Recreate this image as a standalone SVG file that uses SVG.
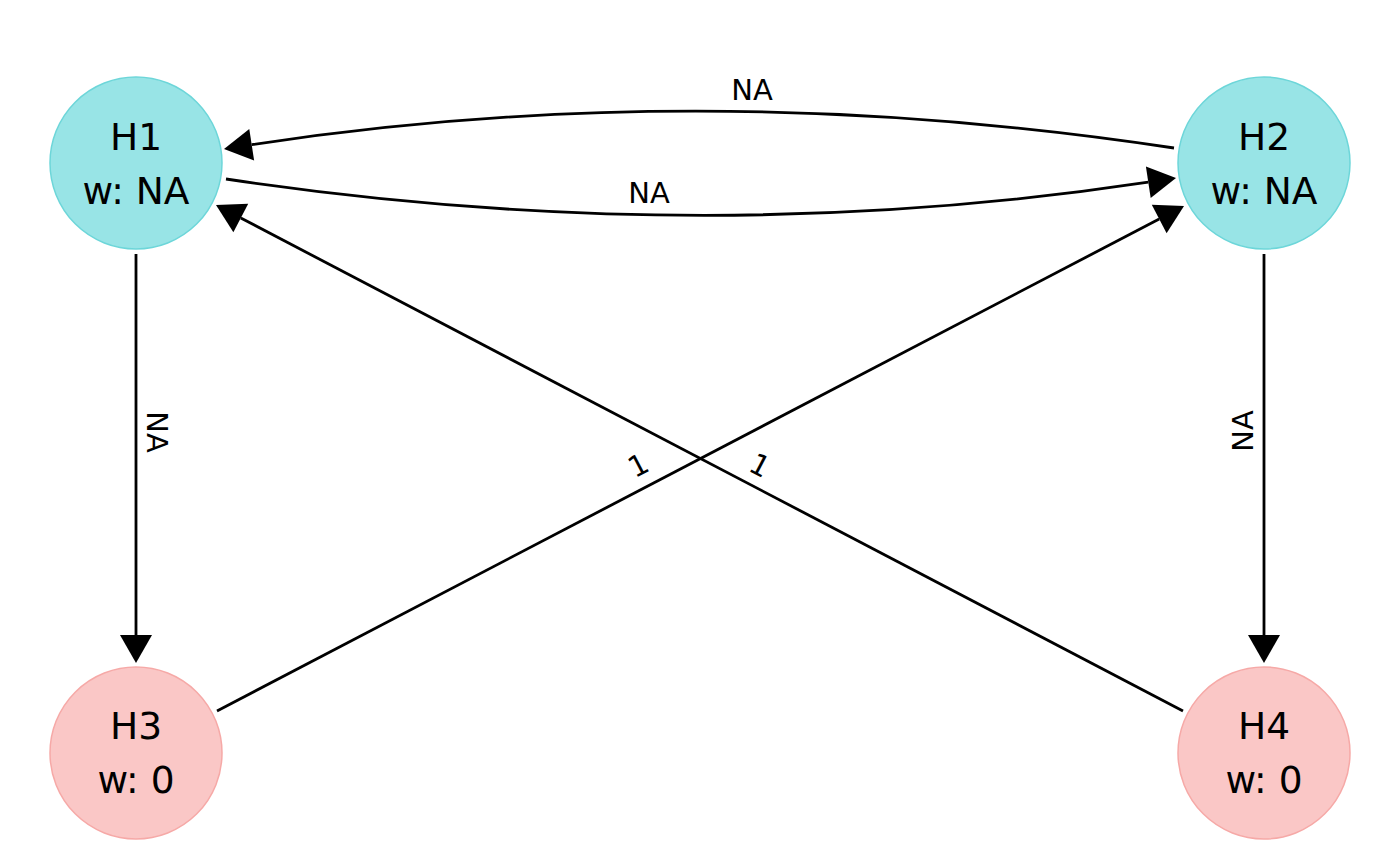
<svg xmlns="http://www.w3.org/2000/svg" width="1400" height="865" viewBox="0 0 1400 865">
<style>
.bg{fill:#ffffff}
.hyp circle{stroke-width:1.5}
.top circle{fill:#98E4E6;stroke:#6DD6D9}
.bot circle{fill:#FAC7C6;stroke:#F6A9A7}
.nl{font-family:"DejaVu Sans",sans-serif;font-size:37.5px;fill:#000;text-anchor:middle}
.edge{fill:none;stroke:#000;stroke-width:2.8}
.el{font-family:"DejaVu Sans",sans-serif;font-size:29px;fill:#000;text-anchor:middle}
</style>
<defs>
<marker id="arr" markerUnits="userSpaceOnUse" markerWidth="30" markerHeight="34" refX="0" refY="16" orient="auto" overflow="visible">
<path d="M0,0 L28,16 L0,32 z" fill="#000"/>
</marker>
</defs>
<rect class="bg" x="0" y="0" width="1400" height="865"/>
<g id="connectors">
<path class="edge" d="M1174,148 Q700,76 251.7,144.7" marker-end="url(#arr)"/>
<path class="edge" d="M226,179 Q700,250 1148.3,182.2" marker-end="url(#arr)"/>
<line class="edge" x1="136" y1="254" x2="136" y2="635" marker-end="url(#arr)"/>
<line class="edge" x1="1264" y1="254" x2="1264" y2="635" marker-end="url(#arr)"/>
<line class="edge" x1="217" y1="711" x2="1159.2" y2="219" marker-end="url(#arr)"/>
<line class="edge" x1="1183" y1="711" x2="240.8" y2="218" marker-end="url(#arr)"/>
<text class="el" x="752" y="100">NA</text>
<text class="el" x="649" y="203">NA</text>
<text class="el" transform="translate(157,432) rotate(90)" x="0" y="10.5">NA</text>
<text class="el" transform="translate(1242,431) rotate(-90)" x="0" y="10.5">NA</text>
<text class="el" transform="translate(638,465) rotate(-27.6)" x="0" y="10.5">1</text>
<text class="el" transform="translate(760,465) rotate(27.6)" x="0" y="10.5">1</text>
</g>
<g id="H1" class="hyp top">
<circle cx="136" cy="163" r="86"/>
<text class="nl" x="136" y="150">H1</text>
<text class="nl" x="136" y="204">w: NA</text>
</g>
<g id="H2" class="hyp top">
<circle cx="1264" cy="163" r="86"/>
<text class="nl" x="1264" y="150">H2</text>
<text class="nl" x="1264" y="204">w: NA</text>
</g>
<g id="H3" class="hyp bot">
<circle cx="136" cy="753" r="86"/>
<text class="nl" x="136" y="739">H3</text>
<text class="nl" x="136" y="793">w: 0</text>
</g>
<g id="H4" class="hyp bot">
<circle cx="1264" cy="753" r="86"/>
<text class="nl" x="1264" y="739">H4</text>
<text class="nl" x="1264" y="793">w: 0</text>
</g>
</svg>
